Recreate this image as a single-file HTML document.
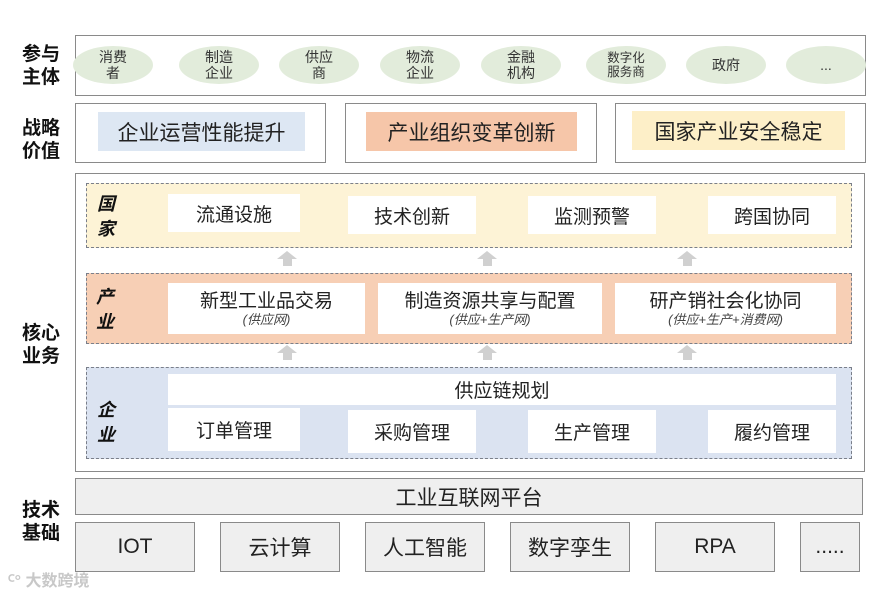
<!DOCTYPE html>
<html><head><meta charset="utf-8"><style>
*{margin:0;padding:0;box-sizing:border-box}
body{width:886px;height:595px;background:#fff;position:relative;overflow:hidden;font-family:"Liberation Sans","Noto Sans CJK SC",sans-serif;color:#222}
.a{position:absolute}
.c{display:flex;align-items:center;justify-content:center;text-align:center}
.lab{font-weight:bold;font-size:19px;line-height:23px;color:#111}
.box{border:1.5px solid #8a8a8a;background:#fff}
.el{background:#e2ecdb;border-radius:50%;width:80px;height:38px;top:46px;font-size:14px;line-height:16px;color:#333}
.dash{border:1.5px dashed #7a7f8a}
.w{background:#fff;font-size:19px;color:#222}
.it{font-style:italic;font-weight:bold;font-size:18px;line-height:25px;color:#111}
.arr{width:0;height:0;border-left:10px solid transparent;border-right:10px solid transparent;border-bottom:8px solid #d0d0d0}
.st{width:9px;height:7px;background:#d0d0d0}
.g{background:#efefef;border:1.5px solid #8a8a8a;font-size:21px;color:#222}
</style></head><body>
<div class="a lab" style="left:22px;top:43px">参与<br>主体</div>
<div class="a lab" style="left:22px;top:117px">战略<br>价值</div>
<div class="a lab" style="left:22px;top:322px">核心<br>业务</div>
<div class="a lab" style="left:22px;top:499px">技术<br>基础</div>

<div class="a box" style="left:75px;top:35px;width:791px;height:61px"></div>
<div class="a el c" style="left:73px">消费<br>者</div>
<div class="a el c" style="left:179px">制造<br>企业</div>
<div class="a el c" style="left:279px">供应<br>商</div>
<div class="a el c" style="left:380px">物流<br>企业</div>
<div class="a el c" style="left:481px">金融<br>机构</div>
<div class="a el c" style="left:586px;font-size:12.5px;line-height:14px">数字化<br>服务商</div>
<div class="a el c" style="left:686px">政府</div>
<div class="a el c" style="left:786px">...</div>

<div class="a box" style="left:75px;top:103px;width:251px;height:60px"></div>
<div class="a box" style="left:345px;top:103px;width:252px;height:60px"></div>
<div class="a box" style="left:615px;top:103px;width:251px;height:60px"></div>
<div class="a c" style="left:98px;top:112px;width:207px;height:39px;background:#dde7f3;font-size:21px">企业运营性能提升</div>
<div class="a c" style="left:366px;top:112px;width:211px;height:39px;background:#f6c6a9;font-size:21px">产业组织变革创新</div>
<div class="a c" style="left:632px;top:111px;width:213px;height:39px;background:#fdefc8;font-size:21px">国家产业安全稳定</div>

<div class="a box" style="left:75px;top:173px;width:790px;height:299px"></div>

<div class="a dash" style="left:86px;top:183px;width:766px;height:65px;background:#fdf3d6"></div>
<div class="a it" style="left:97px;top:192px">国<br>家</div>
<div class="a w c" style="left:168px;top:194px;width:132px;height:38px">流通设施</div>
<div class="a w c" style="left:348px;top:196px;width:128px;height:38px">技术创新</div>
<div class="a w c" style="left:528px;top:196px;width:128px;height:38px">监测预警</div>
<div class="a w c" style="left:708px;top:196px;width:128px;height:38px">跨国协同</div>

<div class="a dash" style="left:86px;top:273px;width:766px;height:71px;background:#f7cfb5"></div>
<div class="a it" style="left:96px;top:285px">产<br>业</div>
<div class="a w c" style="left:168px;top:283px;width:197px;height:51px;flex-direction:column;line-height:22px">新型工业品交易<span style="font-size:13px;font-style:italic;line-height:14px;color:#444">(供应网)</span></div>
<div class="a w c" style="left:378px;top:283px;width:224px;height:51px;flex-direction:column;line-height:22px">制造资源共享与配置<span style="font-size:13px;font-style:italic;line-height:14px;color:#444">(供应+生产网)</span></div>
<div class="a w c" style="left:615px;top:283px;width:221px;height:51px;flex-direction:column;line-height:22px">研产销社会化协同<span style="font-size:13px;font-style:italic;line-height:14px;color:#444">(供应+生产+消费网)</span></div>

<div class="a dash" style="left:86px;top:367px;width:766px;height:92px;background:#dbe3f1"></div>
<div class="a it" style="left:97px;top:398px">企<br>业</div>
<div class="a w c" style="left:168px;top:374px;width:668px;height:31px">供应链规划</div>
<div class="a w c" style="left:168px;top:408px;width:132px;height:43px">订单管理</div>
<div class="a w c" style="left:348px;top:410px;width:128px;height:43px">采购管理</div>
<div class="a w c" style="left:528px;top:410px;width:128px;height:43px">生产管理</div>
<div class="a w c" style="left:708px;top:410px;width:128px;height:43px">履约管理</div>

<div class="a arr" style="left:277px;top:251px"></div><div class="a st" style="left:283px;top:259px"></div>
<div class="a arr" style="left:477px;top:251px"></div><div class="a st" style="left:483px;top:259px"></div>
<div class="a arr" style="left:677px;top:251px"></div><div class="a st" style="left:683px;top:259px"></div>
<div class="a arr" style="left:277px;top:345px"></div><div class="a st" style="left:283px;top:353px"></div>
<div class="a arr" style="left:477px;top:345px"></div><div class="a st" style="left:483px;top:353px"></div>
<div class="a arr" style="left:677px;top:345px"></div><div class="a st" style="left:683px;top:353px"></div>

<div class="a g c" style="left:75px;top:478px;width:788px;height:37px">工业互联网平台</div>
<div class="a g c" style="left:75px;top:522px;width:120px;height:50px">IOT</div>
<div class="a g c" style="left:220px;top:522px;width:120px;height:50px">云计算</div>
<div class="a g c" style="left:365px;top:522px;width:120px;height:50px">人工智能</div>
<div class="a g c" style="left:510px;top:522px;width:120px;height:50px">数字孪生</div>
<div class="a g c" style="left:655px;top:522px;width:120px;height:50px">RPA</div>
<div class="a g c" style="left:800px;top:522px;width:60px;height:50px">.....</div>

<div class="a" style="left:8px;top:567px;font-size:16px;color:#c8c8c8;font-weight:bold">ꟲ° 大数跨境</div>
</body></html>
